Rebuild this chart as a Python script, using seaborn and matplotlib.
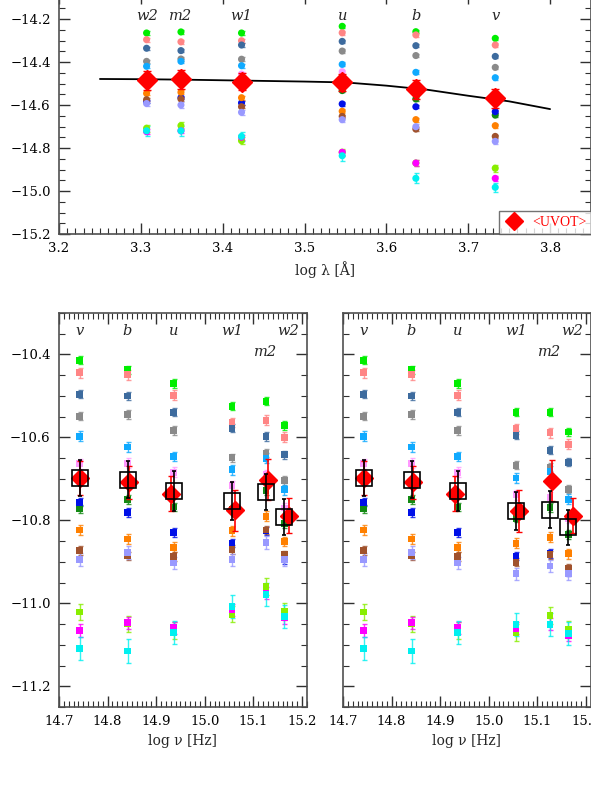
import numpy as np
import pandas as pd
import seaborn as sns
import matplotlib
matplotlib.use('Agg')
from matplotlib import pyplot as plt
from matplotlib.lines import Line2D
from matplotlib.ticker import MultipleLocator

# series (one colour each), same order in every panel
series = ['lime', 'salmon', 'steel', 'gray', 'sky', 'violet', 'dkgreen',
          'blue', 'orange', 'brown', 'lavender', 'chartreuse', 'magenta', 'cyan']
colors = ['#00ee00', '#ff8585', '#3d6b9e', '#8a8a8a', '#10aaff', '#ff99ff', '#138a13',
          '#0010e8', '#ff8000', '#a0522d', '#9999ff', '#88ee00', '#ff00ff', '#00f0f0']
errs = [0.010, 0.012, 0.010, 0.010, 0.012, 0.012, 0.010,
        0.010, 0.012, 0.010, 0.015, 0.020, 0.015, 0.028]

# --- top panel: log lambda ---
bands_top = ['w2', 'm2', 'w1', 'u', 'b', 'v']
loglam = [3.307, 3.349, 3.423, 3.546, 3.636, 3.733]
flam = {
    'lime':       [-14.265, -14.260, -14.265, -14.234, -14.259, -14.290],
    'salmon':     [-14.296, -14.306, -14.301, -14.264, -14.274, -14.321],
    'steel':      [-14.336, -14.347, -14.321, -14.304, -14.324, -14.374],
    'gray':       [-14.397, -14.386, -14.387, -14.349, -14.370, -14.425],
    'sky':        [-14.420, -14.397, -14.417, -14.411, -14.448, -14.473],
    'violet':     [-14.470, -14.456, -14.456, -14.445, -14.520, -14.560],
    'dkgreen':    [-14.500, -14.500, -14.510, -14.533, -14.572, -14.647],
    'blue':       [-14.585, -14.566, -14.590, -14.595, -14.608, -14.631],
    'orange':     [-14.546, -14.541, -14.566, -14.629, -14.668, -14.696],
    'brown':      [-14.575, -14.572, -14.608, -14.653, -14.712, -14.746],
    'lavender':   [-14.593, -14.600, -14.634, -14.668, -14.701, -14.769],
    'chartreuse': [-14.708, -14.696, -14.766, -14.820, -14.870, -14.894],
    'magenta':    [-14.724, -14.720, -14.750, -14.820, -14.870, -14.941],
    'cyan':       [-14.720, -14.720, -14.746, -14.836, -14.941, -14.983],
}
uvot_mean = [-14.485, -14.481, -14.491, -14.494, -14.526, -14.569]
uvot_err = [0.045, 0.045, 0.040, 0.040, 0.044, 0.045]
fit_x = [3.25, 3.30, 3.35, 3.40, 3.45, 3.50, 3.55, 3.60, 3.65, 3.70, 3.75, 3.80]
fit_y = [-14.479, -14.480, -14.482, -14.485, -14.488, -14.491, -14.495,
         -14.510, -14.529, -14.557, -14.583, -14.619]

# --- bottom panels: log nu ---
bands_bot = ['v', 'b', 'u', 'w1', 'm2', 'w2']
lognu = [14.743, 14.841, 14.936, 15.056, 15.126, 15.164]
lognu_red = [14.744, 14.845, 14.931, 15.062, 15.131, 15.174]
fnu_left = {
    'lime':       [-10.414, -10.437, -10.470, -10.525, -10.513, -10.571],
    'salmon':     [-10.444, -10.449, -10.498, -10.564, -10.559, -10.600],
    'steel':      [-10.496, -10.500, -10.539, -10.578, -10.598, -10.642],
    'gray':       [-10.549, -10.545, -10.583, -10.649, -10.638, -10.704],
    'sky':        [-10.597, -10.623, -10.646, -10.678, -10.650, -10.726],
    'violet':     [-10.663, -10.662, -10.684, -10.716, -10.690, -10.770],
    'dkgreen':    [-10.772, -10.750, -10.768, -10.773, -10.728, -10.808],
    'blue':       [-10.756, -10.781, -10.829, -10.855, -10.825, -10.895],
    'orange':     [-10.823, -10.845, -10.865, -10.825, -10.790, -10.851],
    'brown':      [-10.873, -10.886, -10.887, -10.870, -10.823, -10.883],
    'lavender':   [-10.894, -10.877, -10.903, -10.895, -10.853, -10.894],
    'chartreuse': [-11.021, -11.050, -11.065, -11.026, -10.960, -11.020],
    'magenta':    [-11.066, -11.047, -11.059, -11.016, -10.975, -11.034],
    'cyan':       [-11.109, -11.115, -11.071, -11.008, -10.978, -11.031],
}
fnu_right = {
    'lime':       [-10.414, -10.437, -10.470, -10.539, -10.539, -10.587],
    'salmon':     [-10.444, -10.449, -10.498, -10.579, -10.589, -10.617],
    'steel':      [-10.496, -10.500, -10.539, -10.595, -10.631, -10.660],
    'gray':       [-10.549, -10.545, -10.583, -10.667, -10.672, -10.725],
    'sky':        [-10.597, -10.623, -10.646, -10.698, -10.682, -10.749],
    'violet':     [-10.663, -10.662, -10.684, -10.738, -10.744, -10.795],
    'dkgreen':    [-10.772, -10.750, -10.768, -10.795, -10.769, -10.834],
    'blue':       [-10.756, -10.781, -10.829, -10.886, -10.880, -10.925],
    'orange':     [-10.823, -10.845, -10.865, -10.855, -10.841, -10.880],
    'brown':      [-10.873, -10.886, -10.887, -10.901, -10.883, -10.916],
    'lavender':   [-10.894, -10.877, -10.903, -10.929, -10.910, -10.928],
    'chartreuse': [-11.021, -11.050, -11.065, -11.071, -11.029, -11.063],
    'magenta':    [-11.066, -11.047, -11.059, -11.060, -11.050, -11.077],
    'cyan':       [-11.109, -11.115, -11.071, -11.051, -11.051, -11.072],
}
box_left = [-10.698, -10.702, -10.730, -10.753, -10.732, -10.792]
box_right = [-10.698, -10.702, -10.730, -10.777, -10.774, -10.817]
box_err = [0.044, 0.045, 0.048, 0.046, 0.044, 0.043]
red_left = [-10.698, -10.708, -10.736, -10.776, -10.702, -10.789]
red_right = [-10.698, -10.708, -10.736, -10.777, -10.704, -10.789]
red_err = [0.040, 0.040, 0.042, 0.050, 0.050, 0.042]

sns.set_theme(style='ticks')
plt.rcParams['font.family'] = ['DejaVu Serif']
plt.rcParams['mathtext.fontset'] = 'dejavuserif'
AX_COL = '#505050'
palette = dict(zip(series, colors))


def long_table(x, table):
    rows = []
    for s, e in zip(series, errs):
        for xi, yi in zip(x, table[s]):
            rows.append({'x': xi, 'y': yi, 'series': s, 'err': e})
    return pd.DataFrame(rows)


def style_axes(ax, xminor, yminor):
    for sp in ax.spines.values():
        sp.set_color(AX_COL)
        sp.set_linewidth(1.2)
    ax.xaxis.set_minor_locator(MultipleLocator(xminor))
    ax.yaxis.set_minor_locator(MultipleLocator(yminor))
    ax.tick_params(which='both', direction='in', top=True, right=True,
                   color='#303030', labelsize=9.5, labelcolor='black')
    ax.tick_params(which='major', length=8, width=1.0, pad=6)
    ax.tick_params(which='minor', length=4, width=0.8)


def draw_points(ax, df, marker, size, err_scale=1.0):
    for s in series:
        d = df[df['series'] == s]
        ax.errorbar(d['x'], d['y'], yerr=d['err'] * err_scale, fmt='none',
                    ecolor=palette[s], elinewidth=1.0, capsize=1.8, alpha=0.8, zorder=2)
    sns.scatterplot(data=df, x='x', y='y', hue='series', palette=palette,
                    marker=marker, s=size, edgecolor='none', legend=False,
                    ax=ax, zorder=3)


fig = plt.figure(figsize=(5.91, 7.86), dpi=100)
W, H = 591.0, 786.0

# top panel (its upper part lies above the picture, as in the original crop)
top_ylim = (-15.2, -14.08)
ax1 = fig.add_axes([59 / W, (H - 234) / H, 532 / W, (1.12 * 215) / H])
draw_points(ax1, long_table(loglam, flam), 'o', 26, err_scale=0.8)
sns.lineplot(x=fit_x, y=fit_y, color='black', lw=1.3, ax=ax1, zorder=4)
ax1.errorbar(loglam, uvot_mean, yerr=uvot_err, fmt='D', color='red', ms=10,
             capsize=3, elinewidth=1.3, zorder=5)
for b, x in zip(bands_top, loglam):
    ax1.text(x, -14.187, b, ha='center', va='center', style='italic',
             fontsize=10.5, zorder=6)
ax1.set_xlim(3.2, 3.85)
ax1.set_ylim(*top_ylim)
ax1.xaxis.set_major_locator(MultipleLocator(0.1))
ax1.yaxis.set_major_locator(MultipleLocator(0.2))
style_axes(ax1, 0.01, 0.05)
ax1.set_xlabel('log λ [Å]', fontsize=10, labelpad=4)
ax1.set_ylabel(r'log F$_\lambda$ [erg s$^{-1}$ cm$^{-2}$ Å$^{-1}$]', fontsize=10)
ax1.yaxis.set_label_coords(-0.112, 0.45)
leg_handle = Line2D([], [], marker='D', color='red', ls='none', ms=9)
leg = ax1.legend([leg_handle], ['<UVOT>'], loc='lower right', frameon=True,
                 fancybox=False, borderaxespad=0, handletextpad=0.6,
                 borderpad=0.35, handlelength=1.4, labelcolor='red',
                 prop={'family': 'Liberation Serif', 'size': 10})
leg.get_frame().set_edgecolor(AX_COL)
leg.get_frame().set_linewidth(1.0)

# bottom panels
for i, (left, table, box, red) in enumerate([(59, fnu_left, box_left, red_left),
                                             (343, fnu_right, box_right, red_right)]):
    ax = fig.add_axes([left / W, (H - 707) / H, 248 / W, 394 / H])
    draw_points(ax, long_table(lognu, table), 's', 24)
    ax.errorbar(lognu_red, red, yerr=red_err, fmt='D', color='red', ms=9,
                capsize=2, elinewidth=1.2, zorder=5)
    ax.errorbar(lognu, box, yerr=box_err, fmt='s', mfc='none', mec='black',
                ecolor='black', ms=11, mew=1.2, elinewidth=1.2, capsize=1.5, zorder=6)
    for b, x in zip(bands_bot, lognu):
        yy = -10.393 if b == 'm2' else -10.344
        ax.text(x + (0.008 if b == 'w2' else 0), yy, b, ha='center', va='center',
                style='italic', fontsize=10.5, zorder=7)
    ax.set_xlim(14.7, 15.2103)
    ax.set_ylim(-11.25, -10.3)
    ax.xaxis.set_major_locator(MultipleLocator(0.1))
    ax.yaxis.set_major_locator(MultipleLocator(0.2))
    style_axes(ax, 0.01, 0.05)
    ax.set_xlabel('log ν [Hz]', fontsize=10, labelpad=4)
    if i == 0:
        ax.set_ylabel(r'log $\nu$F$_\nu$ [erg s$^{-1}$ cm$^{-2}$]', fontsize=10)
        ax.yaxis.set_label_coords(-0.24, 0.45)
    else:
        ax.set_ylabel('')
        ax.tick_params(labelleft=False)

fig.savefig('out.png', dpi=100)
